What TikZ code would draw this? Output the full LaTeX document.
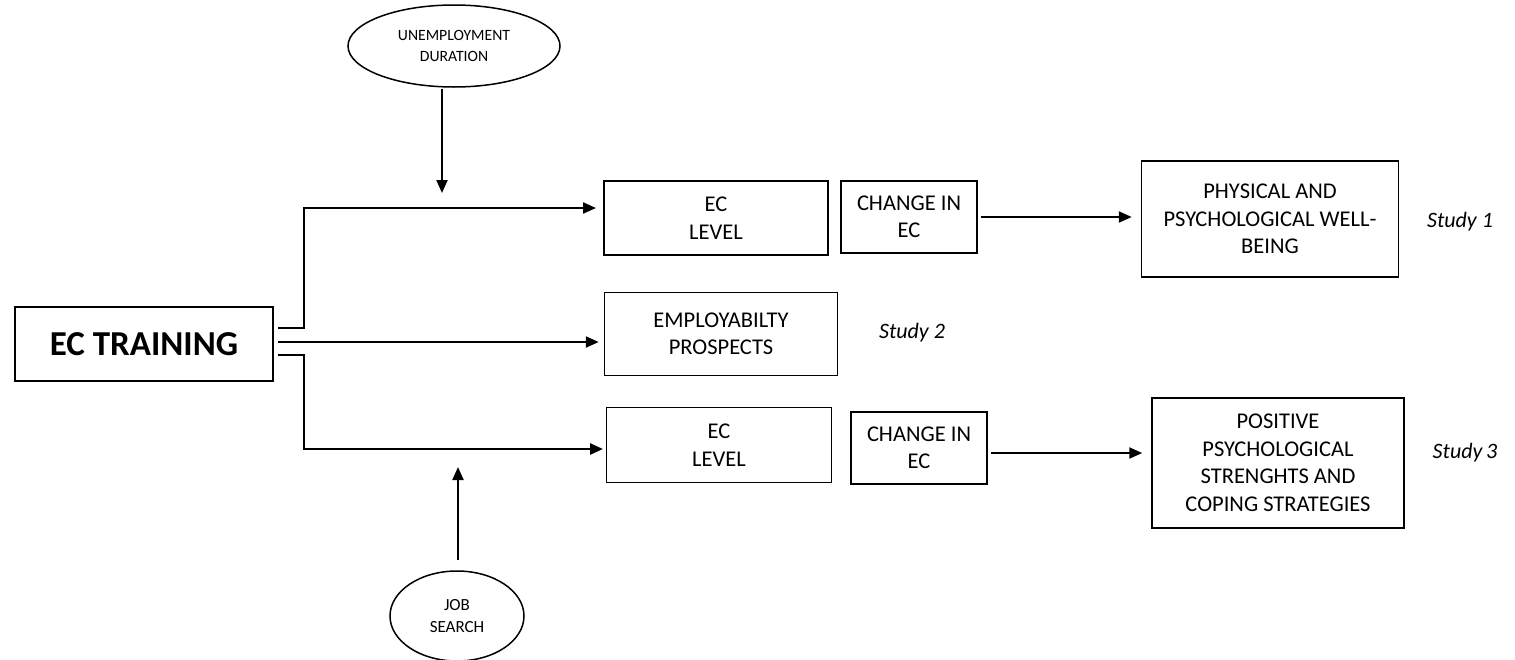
\documentclass[tikz,border=0pt]{standalone}
\usepackage{fontspec}
\setmainfont{Carlito}
\usetikzlibrary{arrows.meta,shapes.geometric}
\begin{document}
\begin{tikzpicture}[x=1pt,y=-1pt,
  box/.style={draw,line width=1.5pt,align=center,inner sep=0pt,font=\fontsize{22.5}{27.5}\selectfont},
  bigbox/.style={draw,line width=2.8pt,align=center,inner sep=0pt,font=\fontsize{35}{40}\selectfont\bfseries},
  oval/.style={draw,ellipse,line width=1.5pt,align=center,inner sep=0pt},
  study/.style={font=\fontsize{22}{26}\selectfont\itshape},
  conn/.style={line width=2.2pt,-{Triangle[length=13pt,width=11pt]}}]
\useasboundingbox (0,0) rectangle (1515,659);
% nodes
\node[bigbox,minimum width=258,minimum height=74] (train) at (144,344) {EC TRAINING};
\node[box,minimum width=224,minimum height=74] (ecl1) at (716,218) {EC\\LEVEL};
\node[box,minimum width=136,minimum height=72] (chg1) at (909,217) {CHANGE IN\\EC};
\node[box,minimum width=257,minimum height=116] (phys) at (1270,219) {PHYSICAL AND\\PSYCHOLOGICAL WELL-\\BEING};
\node[box,minimum width=233,minimum height=83] (emp) at (721,334) {EMPLOYABILTY\\PROSPECTS};
\node[box,minimum width=225,minimum height=75] (ecl2) at (719,445) {EC\\LEVEL};
\node[box,minimum width=136,minimum height=72] (chg2) at (919,448) {CHANGE IN\\EC};
\node[box,minimum width=252,minimum height=130] (pos) at (1278,463) {POSITIVE\\PSYCHOLOGICAL\\STRENGHTS AND\\COPING STRATEGIES};
\node[oval,minimum width=212,minimum height=82,font=\fontsize{15.7}{21}\selectfont] (unemp) at (454,46) {UNEMPLOYMENT\\DURATION};
\node[oval,minimum width=134,minimum height=90,font=\fontsize{17}{22}\selectfont] (job) at (457,616) {JOB\\SEARCH};
\node[study] (s1) at (1460,222) {Study 1};
\node[study] (s2) at (912,333) {Study 2};
\node[study] (s3) at (1465,453) {Study\,3};
% coordinates
\coordinate (t1) at (278,328);
\coordinate (t2) at (278,342);
\coordinate (t3) at (278,355);
\coordinate (a1) at (596,208);
\coordinate (a3) at (603,449);
\coordinate (u1) at (442,89);
\coordinate (u2) at (442,193);
\coordinate (j1) at (458,560);
\coordinate (j2) at (458,467);
% connectors
\draw[conn] (t1) -- (304,328) |- (a1);
\draw[conn] (t2) -- ([xshift=-5pt]emp.west |- t2);
\draw[conn,line width=2.6pt] (t3) -- (304,355) |- (a3);
\draw[conn] (u1) -- (u2);
\draw[conn] (j1) -- (j2);
\draw[conn,shorten >=9pt] (chg1.east) ++(3,0) -- (phys.west |- chg1.east);
\draw[conn,shorten >=9pt] ([xshift=3pt,yshift=-5pt]chg2.east) -- (pos.west |- 0,453);
\end{tikzpicture}
\end{document}
